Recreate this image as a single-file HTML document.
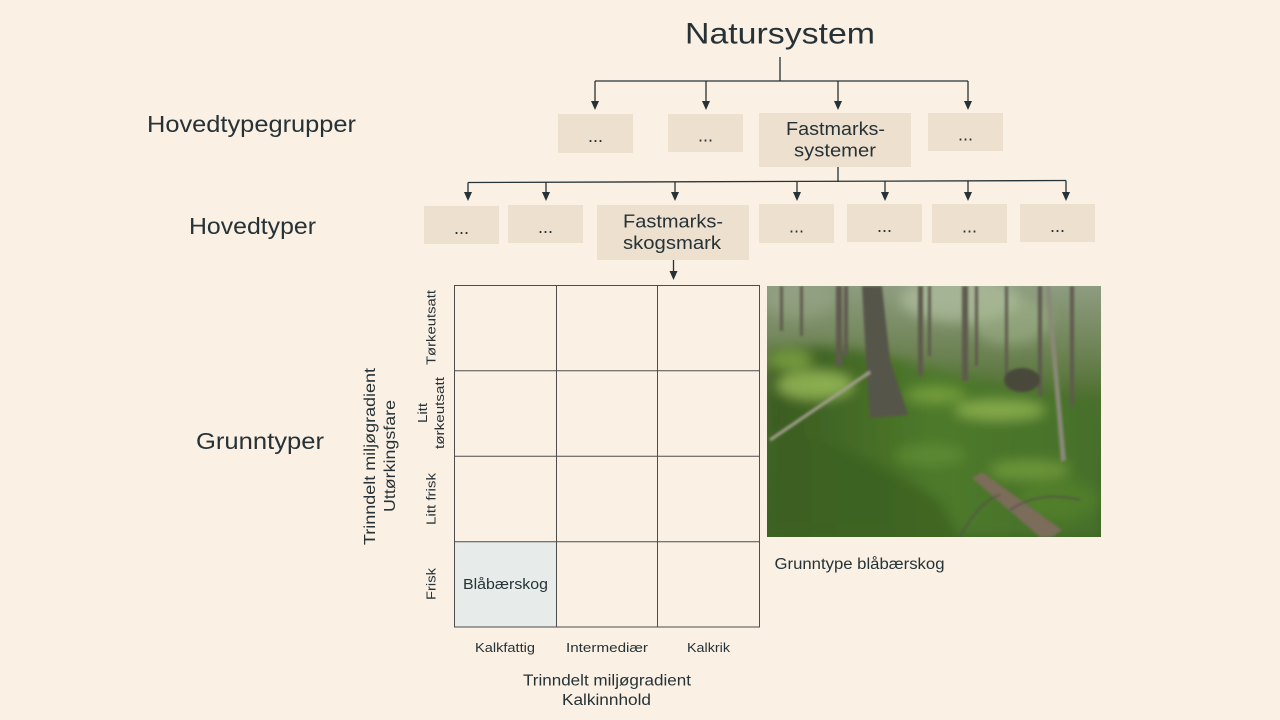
<!DOCTYPE html>
<html><head><meta charset="utf-8"><style>
html,body{margin:0;padding:0;background:#FAF0E4;}
svg{display:block;}
text{font-family:"Liberation Sans",sans-serif;fill:#263236;}
</style></head><body>
<svg width="1280" height="720" viewBox="0 0 1280 720" xmlns="http://www.w3.org/2000/svg">
<rect x="0" y="0" width="1280" height="720" fill="#FAF0E4"/>

<!-- Title -->
<text x="685" y="43.5" font-size="30" textLength="190" lengthAdjust="spacingAndGlyphs">Natursystem</text>

<!-- Left labels -->
<text x="147" y="132" font-size="23" textLength="209" lengthAdjust="spacingAndGlyphs">Hovedtypegrupper</text>
<text x="189" y="234" font-size="23" textLength="127" lengthAdjust="spacingAndGlyphs">Hovedtyper</text>
<text x="196" y="449" font-size="23" textLength="128" lengthAdjust="spacingAndGlyphs">Grunntyper</text>

<!-- connectors -->
<g stroke="#263236" stroke-width="1.3" fill="none">
<line x1="780" y1="57" x2="780" y2="81"/>
<line x1="595" y1="81" x2="968" y2="81"/>
<line x1="595" y1="81" x2="595" y2="103"/>
<line x1="706" y1="81" x2="706" y2="103"/>
<line x1="838" y1="81" x2="838" y2="103"/>
<line x1="968" y1="81" x2="968" y2="103"/>
<line x1="838" y1="167" x2="838" y2="182"/>
<line x1="468" y1="182.5" x2="1066" y2="180.5"/>
<line x1="468" y1="182.5" x2="468" y2="194"/>
<line x1="546" y1="182.3" x2="546" y2="194"/>
<line x1="675" y1="182" x2="675" y2="194"/>
<line x1="797" y1="181.5" x2="797" y2="194"/>
<line x1="885" y1="181.2" x2="885" y2="194"/>
<line x1="968" y1="181" x2="968" y2="194"/>
<line x1="1066" y1="180.5" x2="1066" y2="194"/>
<line x1="673.5" y1="260" x2="673.5" y2="273"/>
</g>
<g fill="#263236">
<polygon points="591,101 599,101 595,110"/>
<polygon points="702,101 710,101 706,110"/>
<polygon points="834,101 842,101 838,110"/>
<polygon points="964,101 972,101 968,110"/>
<polygon points="464,192 472,192 468,201"/>
<polygon points="542,192 550,192 546,201"/>
<polygon points="671,192 679,192 675,201"/>
<polygon points="793,192 801,192 797,201"/>
<polygon points="881,192 889,192 885,201"/>
<polygon points="964,192 972,192 968,201"/>
<polygon points="1062,192 1070,192 1066,201"/>
<polygon points="669.5,271 677.5,271 673.5,280"/>
</g>

<!-- Row 1 boxes -->
<g fill="#EDE0CF">
<rect x="558" y="114" width="75" height="39"/>
<rect x="668" y="114" width="75" height="38"/>
<rect x="759" y="113" width="152" height="54"/>
<rect x="928" y="113" width="75" height="38"/>
</g>
<g font-size="18" text-anchor="middle">
<text x="595.5" y="142">...</text>
<text x="705.5" y="141.5">...</text>
<text x="965.5" y="140.5">...</text>
<text x="835.5" y="135" textLength="99" lengthAdjust="spacingAndGlyphs">Fastmarks-</text>
<text x="835" y="156.5" textLength="82" lengthAdjust="spacingAndGlyphs">systemer</text>
</g>

<!-- Row 2 boxes -->
<g fill="#EDE0CF">
<rect x="424" y="206" width="75" height="38"/>
<rect x="508" y="205" width="75" height="38"/>
<rect x="597" y="205" width="152" height="55"/>
<rect x="759" y="204" width="75" height="39"/>
<rect x="847" y="204" width="75" height="38"/>
<rect x="932" y="204" width="75" height="39"/>
<rect x="1020" y="204" width="75" height="38"/>
</g>
<g font-size="18" text-anchor="middle">
<text x="461.5" y="234">...</text>
<text x="545.5" y="233">...</text>
<text x="796.5" y="232.5">...</text>
<text x="884.5" y="232">...</text>
<text x="969.5" y="232.5">...</text>
<text x="1057.5" y="232">...</text>
<text x="673" y="227.5" textLength="100" lengthAdjust="spacingAndGlyphs">Fastmarks-</text>
<text x="672" y="249" textLength="98" lengthAdjust="spacingAndGlyphs">skogsmark</text>
</g>

<!-- Grid -->
<rect x="455" y="541.7" width="101.5" height="85.3" fill="#E7ECEA"/>
<g stroke="#4d4d4d" stroke-width="1" fill="none">
<rect x="454.5" y="285.5" width="305" height="341.5"/>
<line x1="556.5" y1="285.5" x2="556.5" y2="627"/>
<line x1="657.5" y1="285.5" x2="657.5" y2="627"/>
<line x1="454.5" y1="370.8" x2="759.5" y2="370.8"/>
<line x1="454.5" y1="456.2" x2="759.5" y2="456.2"/>
<line x1="454.5" y1="541.7" x2="759.5" y2="541.7"/>
</g>
<text x="505.5" y="589" font-size="15" text-anchor="middle" textLength="85" lengthAdjust="spacingAndGlyphs">Blåbærskog</text>

<!-- Row labels rotated -->
<g font-size="13" text-anchor="middle">
<text transform="translate(435.5,327.5) rotate(-90)" textLength="75" lengthAdjust="spacingAndGlyphs">Tørkeutsatt</text>
<text transform="translate(427,413) rotate(-90)" textLength="20" lengthAdjust="spacingAndGlyphs">Litt</text>
<text transform="translate(444,413) rotate(-90)" textLength="72" lengthAdjust="spacingAndGlyphs">tørkeutsatt</text>
<text transform="translate(435.5,499) rotate(-90)" textLength="52" lengthAdjust="spacingAndGlyphs">Litt frisk</text>
<text transform="translate(435.5,584) rotate(-90)" textLength="32" lengthAdjust="spacingAndGlyphs">Frisk</text>
</g>
<g font-size="16" text-anchor="middle">
<text transform="translate(375,456.5) rotate(-90)" textLength="177" lengthAdjust="spacingAndGlyphs">Trinndelt miljøgradient</text>
<text transform="translate(395,456) rotate(-90)" textLength="112" lengthAdjust="spacingAndGlyphs">Uttørkingsfare</text>
</g>

<!-- Column labels -->
<g font-size="13" text-anchor="middle">
<text x="505" y="652" textLength="60" lengthAdjust="spacingAndGlyphs">Kalkfattig</text>
<text x="607" y="652" textLength="82" lengthAdjust="spacingAndGlyphs">Intermediær</text>
<text x="708.5" y="652" textLength="43" lengthAdjust="spacingAndGlyphs">Kalkrik</text>
</g>
<g font-size="15.5" text-anchor="middle">
<text x="607" y="685.5" textLength="168" lengthAdjust="spacingAndGlyphs">Trinndelt miljøgradient</text>
<text x="606.5" y="705" textLength="89" lengthAdjust="spacingAndGlyphs">Kalkinnhold</text>
</g>

<!-- Photo -->
<defs>
<clipPath id="ph"><rect x="767" y="286" width="334" height="251"/></clipPath>
<linearGradient id="bg" x1="0" y1="0" x2="0" y2="1">
<stop offset="0" stop-color="#8e9c80"/>
<stop offset="0.25" stop-color="#6f8456"/>
<stop offset="0.45" stop-color="#4f7030"/>
<stop offset="1" stop-color="#3e6424"/>
</linearGradient>
<linearGradient id="lt" x1="0" y1="0" x2="1" y2="0">
<stop offset="0" stop-color="#3a5a22"/>
<stop offset="0.5" stop-color="#4e7a2a"/>
<stop offset="1" stop-color="#46702a"/>
</linearGradient>
<filter id="bl" x="-50%" y="-50%" width="200%" height="200%"><feGaussianBlur stdDeviation="6"/></filter>
<filter id="bl2" x="-20%" y="-20%" width="140%" height="140%"><feGaussianBlur stdDeviation="1.2"/></filter>
</defs>
<g clip-path="url(#ph)">
<rect x="767" y="286" width="334" height="251" fill="url(#bg)"/>
<g filter="url(#bl)">
<ellipse cx="960" cy="300" rx="60" ry="22" fill="#b8c6a6" opacity="0.6"/>
<ellipse cx="1010" cy="320" rx="40" ry="25" fill="#a6b890" opacity="0.5"/>
<ellipse cx="800" cy="300" rx="35" ry="18" fill="#9aa888" opacity="0.5"/>
<path d="M767,350 Q830,340 900,360 Q980,385 1101,400 L1101,537 L767,537 Z" fill="url(#lt)"/>
<path d="M767,430 Q850,440 940,500 L960,537 L767,537 Z" fill="#3c6120" opacity="0.8"/>
<ellipse cx="815" cy="385" rx="38" ry="14" fill="#a9cc62" opacity="0.7"/>
<ellipse cx="790" cy="360" rx="22" ry="10" fill="#98c050" opacity="0.6"/>
<ellipse cx="1000" cy="410" rx="45" ry="10" fill="#a8cc60" opacity="0.6"/>
<ellipse cx="935" cy="395" rx="30" ry="8" fill="#8cb448" opacity="0.6"/>
<ellipse cx="1030" cy="470" rx="40" ry="10" fill="#8cb448" opacity="0.5"/>
<ellipse cx="930" cy="455" rx="35" ry="10" fill="#6a9a38" opacity="0.5"/>
<ellipse cx="1060" cy="500" rx="40" ry="20" fill="#5a8a2c" opacity="0.5"/>
</g>
<g filter="url(#bl2)">
<g fill="#5e5a4e">
<rect x="836" y="286" width="6" height="80"/>
<rect x="844" y="286" width="4" height="70"/>
<rect x="918" y="286" width="5" height="90"/>
<rect x="928" y="286" width="3" height="70"/>
<rect x="962" y="286" width="6" height="95"/>
<rect x="975" y="286" width="3" height="80"/>
<rect x="1005" y="286" width="3" height="90"/>
<rect x="1038" y="286" width="4" height="110"/>
<rect x="1070" y="286" width="4" height="120"/>
<rect x="800" y="286" width="3" height="50"/>
<rect x="780" y="286" width="3" height="45"/>
</g>
<polygon points="1046,286 1050,286 1066,460 1061,462" fill="#8a8878"/>
<polygon points="862,286 882,286 890,360 908,415 870,418 866,360" fill="#57544a"/>
<ellipse cx="1022" cy="380" rx="18" ry="12" fill="#4a4a3a"/>
<line x1="770" y1="440" x2="870" y2="372" stroke="#a4a090" stroke-width="3"/>
<polygon points="972,478 982,472 1062,530 1052,537 1040,537" fill="#7c6c5a"/>
<g stroke="#55504a" stroke-width="1.5" fill="none">
<path d="M960,537 Q980,500 1000,495"/>
<path d="M1010,510 Q1040,490 1080,500"/>
</g>
</g>
</g>
<text x="774.5" y="569" font-size="15.5" textLength="170" lengthAdjust="spacingAndGlyphs">Grunntype blåbærskog</text>
</svg>
</body></html>
